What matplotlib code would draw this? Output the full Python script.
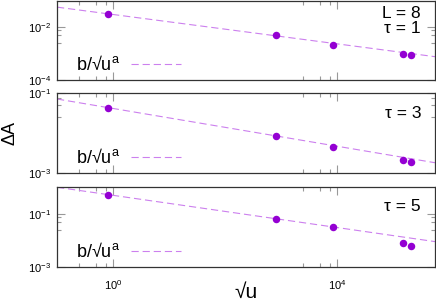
import matplotlib
matplotlib.use("Agg")
import matplotlib.pyplot as plt
import numpy as np

plt.rcParams['font.family'] = ['Liberation Sans', 'DejaVu Sans']
plt.rcParams['mathtext.fontset'] = 'custom'
plt.rcParams['mathtext.rm'] = 'Liberation Sans'
plt.rcParams['mathtext.it'] = 'Liberation Sans'
plt.rcParams['mathtext.default'] = 'regular'
plt.rcParams['axes.unicode_minus'] = False

# データ (sqrt(u), ΔA)
sqrt_u = [0.8, 830, 8500, 148000, 209000]
dA_tau1 = [0.032, 0.0049, 0.0021, 0.00093, 0.00087]
dA_tau3 = [0.043, 0.0085, 0.0045, 0.0021, 0.0019]
dA_tau5 = [0.50, 0.063, 0.031, 0.0078, 0.0062]

# フィット b/sqrt(u)^a
fit_a = [0.277, 0.236, 0.302]
fit_b = [0.0297, 0.0411, 0.488]

taus = ["L = 8\nτ = 1", "τ = 3", "τ = 5"]
tau_y = [0.74, 0.74, 0.756]
ylims = [(1e-4, 1e-1), (1e-3, 1e-1), (1e-3, 1.0)]
yticks = [[1e-4, 1e-2], [1e-3, 1e-1], [1e-3, 1e-1]]
yminor = [[0.0025, 0.005, 0.0075], [0.025, 0.05, 0.075], [0.025, 0.05, 0.075]]
xlim = (0.1, 10 ** 5.75)
xticks = [1, 1e4]
xminor = [0.25, 0.5, 0.75, 2500, 5000, 7500]

point_color = "#9400d3"
line_color = "#cc80ee"

fig = plt.figure(figsize=(4.36, 3.01), dpi=100)
W, H = 436, 301
panels_px = [(0.5, 80), (93, 173), (187, 267)]
left_px, right_px = 57, 435

series = [dA_tau1, dA_tau3, dA_tau5]
for i, (top, bot) in enumerate(panels_px):
    ax = fig.add_axes([left_px / W, 1 - bot / H, (right_px - left_px) / W, (bot - top) / H])
    ax.set_xscale("log")
    ax.set_yscale("log")
    ax.set_xlim(*xlim)
    ax.set_ylim(*ylims[i])

    xs = np.array(xlim)
    ax.plot(xs, fit_b[i] / xs ** fit_a[i], color=line_color, lw=0.8,
            dashes=(6.5, 3.5), label="b/√u$^{a}$")
    ax.plot(sqrt_u, series[i], "o", color=point_color, ms=5.4, mec="none")

    ax.set_xticks(xticks)
    ax.set_xticks(xminor, minor=True)
    ax.set_yticks(yticks[i])
    ax.set_yticks(yminor[i], minor=True)
    ax.tick_params(which="both", direction="in", top=True, right=True,
                   color="#999999", labelsize=8)
    ax.tick_params(which="major", length=6, width=0.8, pad=4)
    ax.tick_params(which="minor", length=3, width=0.8, labelbottom=False, labelleft=False)
    ax.tick_params(axis="x", which="major", pad=8)
    if i < 2:
        ax.tick_params(axis="x", labelbottom=False)
    for s in ax.spines.values():
        s.set_color("#333333")
        s.set_linewidth(0.9)

    ax.text(0.963, tau_y[i], taus[i], transform=ax.transAxes,
            ha="right", va="center", fontsize=12.5, linespacing=0.95)

    ax.legend(loc="center left", bbox_to_anchor=(0.05, 0.19), frameon=False,
              markerfirst=False, fontsize=13, handlelength=2.8,
              handletextpad=0.6, borderpad=0, borderaxespad=0)

fig.text(10 / W, 1 - 133 / H, "ΔA", rotation=90, ha="center", va="center", fontsize=13)
fig.text(246 / W, 1 - 292 / H, "√u", ha="center", va="center", fontsize=15)

fig.savefig("out.png", dpi=100)
